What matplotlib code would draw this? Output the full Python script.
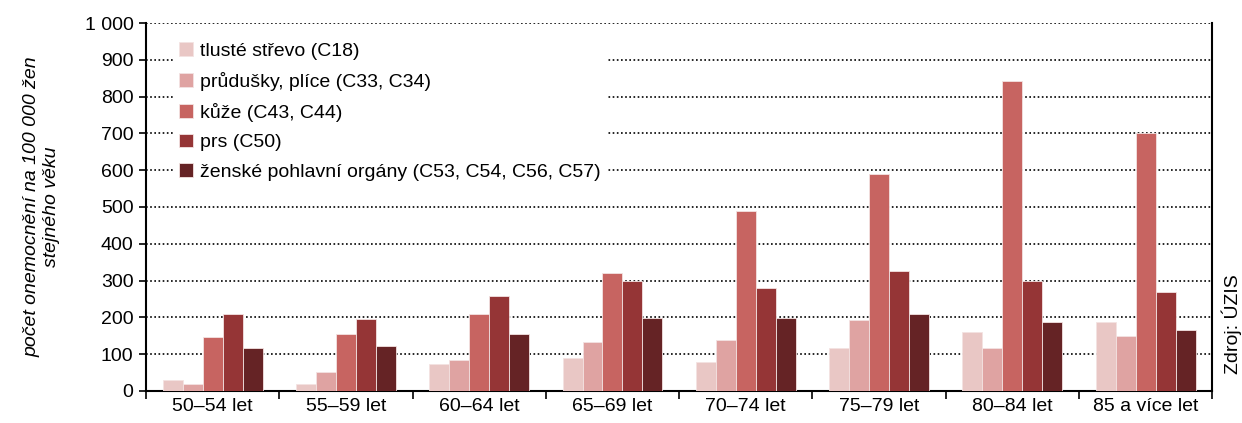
import matplotlib
matplotlib.use("Agg")
import matplotlib.pyplot as plt
import numpy as np

plt.rcParams['font.family'] = ['Liberation Sans', 'DejaVu Sans']

categories = ["50–54 let", "55–59 let", "60–64 let", "65–69 let", "70–74 let",
              "75–79 let", "80–84 let", "85 a více let"]
series_names = ["tlusté střevo (C18)", "průdušky, plíce (C33, C34)", "kůže (C43, C44)",
                "prs (C50)", "ženské pohlavní orgány (C53, C54, C56, C57)"]
tluste_strevo = [30, 19, 73, 90, 79, 116, 159, 187]
prudusky_plice = [19, 52, 84, 132, 138, 192, 117, 150]
kuze = [148, 154, 208, 321, 489, 591, 842, 700]
prs = [208, 196, 257, 300, 279, 327, 300, 268]
zenske_organy = [116, 121, 154, 198, 198, 208, 187, 165]
yticks = [0, 100, 200, 300, 400, 500, 600, 700, 800, 900, 1000]
ytick_labels = ["0", "100", "200", "300", "400", "500", "600", "700", "800", "900", "1 000"]

colors = ["#E9C7C5", "#DFA3A2", "#C76461", "#953536", "#652325"]
data = [tluste_strevo, prudusky_plice, kuze, prs, zenske_organy]

fig = plt.figure(figsize=(12.42, 4.23), dpi=100)
ax = fig.add_axes([0.1176, 0.0757, 0.8584, 0.8699])

x = np.arange(len(categories))
w = 0.15
for i, (vals, c, name) in enumerate(zip(data, colors, series_names)):
    ax.bar(x + (i - 2) * w, vals, width=w, color=c, edgecolor="#F3E3E2",
           linewidth=0.6, label=name, zorder=3)

FS = 14
ax.set_xlim(-0.5, len(categories) - 0.5)
ax.set_ylim(0, 1000)
ax.set_yticks(yticks)
ax.set_yticklabels(ytick_labels, fontsize=FS)
ax.set_xticks(x)
ax.set_xticklabels(categories, fontsize=FS)
ax.tick_params(axis='x', length=0, pad=5)
ax.set_xticks(np.arange(-0.5, len(categories)), minor=True)
ax.tick_params(axis='x', which='minor', length=6, width=1.2, direction='out')
ax.tick_params(axis='y', length=5, width=1.2, direction='out', pad=4)

ax.yaxis.grid(True, linestyle=(0, (1, 1.5)), color="black", linewidth=1.2, zorder=0)
ax.set_axisbelow(True)
for s in ['left', 'bottom', 'right']:
    ax.spines[s].set_linewidth(1.5)
ax.spines['top'].set_visible(False)

ax.set_ylabel("počet onemocnění na 100 000 žen\nstejného věku", fontsize=FS,
              style='italic', labelpad=18)

leg = ax.legend(loc='upper left', bbox_to_anchor=(0.022, 0.975), fontsize=FS,
                frameon=True, fancybox=False, edgecolor='none', facecolor='white',
                framealpha=1, handlelength=0.7, handleheight=0.7, handletextpad=0.35,
                labelspacing=0.62, borderpad=0.3, borderaxespad=0.2)
leg.set_zorder(5)

fig.text(0.992, 0.234, "Zdroj: ÚZIS", rotation=90, fontsize=FS, ha='center', va='center')

fig.savefig("out.png", dpi=100)
